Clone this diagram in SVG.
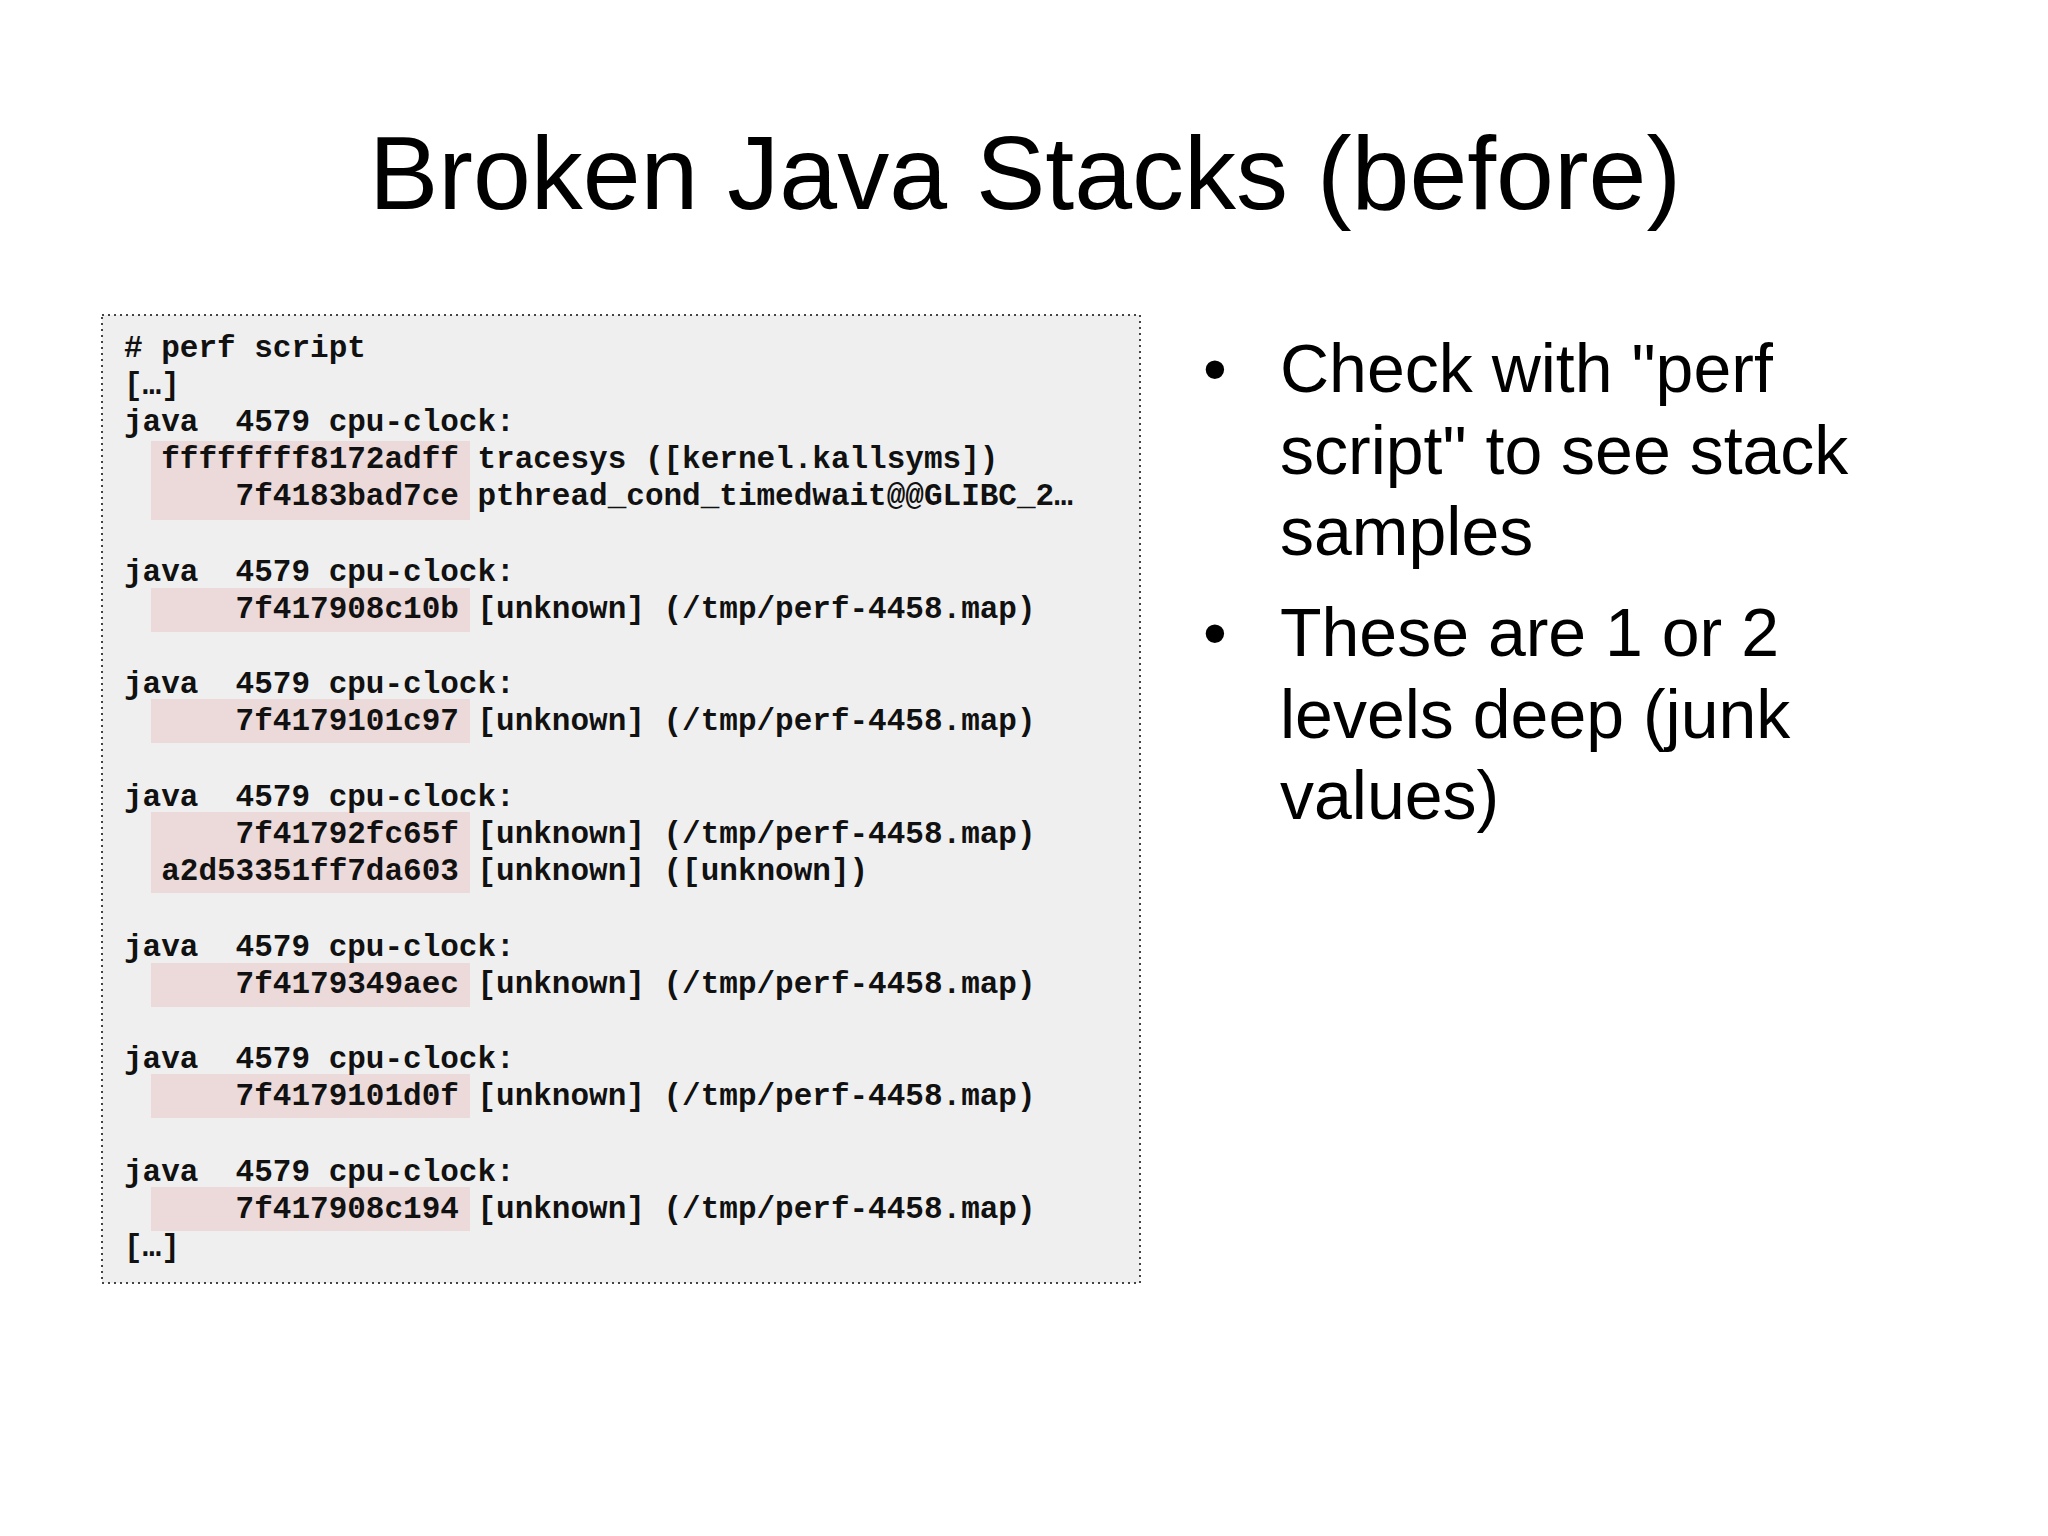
<svg xmlns="http://www.w3.org/2000/svg" width="2048" height="1536" viewBox="0 0 2048 1536">
<style>
.c{font-family:"Liberation Mono",monospace;font-weight:bold;font-size:31px;fill:#111;white-space:pre}
.b{font-family:"Liberation Sans",Arial,sans-serif;font-size:68px;fill:#000}
.h{fill:#ecd9d9}
</style>
<rect width="2048" height="1536" fill="#fff"/>
<text x="1025" y="209" text-anchor="middle" font-family="Liberation Sans,Arial,sans-serif" font-size="104">Broken Java Stacks (before)</text>
<g id="code">
<rect x="102" y="315" width="1038" height="968" fill="#efefef" stroke="#444" stroke-width="2" stroke-dasharray="2 4"/>
<rect class="h" x="151" y="441" width="319" height="79"/>
<rect class="h" x="151" y="588" width="319" height="44"/>
<rect class="h" x="151" y="699" width="319" height="44"/>
<rect class="h" x="151" y="812" width="319" height="81"/>
<rect class="h" x="151" y="963" width="319" height="44"/>
<rect class="h" x="151" y="1074" width="319" height="44"/>
<rect class="h" x="151" y="1187" width="319" height="44"/>
<text class="c" x="124" y="357"># perf script</text>
<text class="c" x="124" y="394">[…]</text>
<text class="c" x="124" y="431">java  4579 cpu-clock:</text>
<text class="c" x="124" y="468">  ffffffff8172adff tracesys ([kernel.kallsyms])</text>
<text class="c" x="124" y="505">      7f4183bad7ce pthread_cond_timedwait@@GLIBC_2…</text>
<text class="c" x="124" y="581">java  4579 cpu-clock:</text>
<text class="c" x="124" y="618">      7f417908c10b [unknown] (/tmp/perf-4458.map)</text>
<text class="c" x="124" y="693">java  4579 cpu-clock:</text>
<text class="c" x="124" y="730">      7f4179101c97 [unknown] (/tmp/perf-4458.map)</text>
<text class="c" x="124" y="806">java  4579 cpu-clock:</text>
<text class="c" x="124" y="843">      7f41792fc65f [unknown] (/tmp/perf-4458.map)</text>
<text class="c" x="124" y="880">  a2d53351ff7da603 [unknown] ([unknown])</text>
<text class="c" x="124" y="956">java  4579 cpu-clock:</text>
<text class="c" x="124" y="993">      7f4179349aec [unknown] (/tmp/perf-4458.map)</text>
<text class="c" x="124" y="1068">java  4579 cpu-clock:</text>
<text class="c" x="124" y="1105">      7f4179101d0f [unknown] (/tmp/perf-4458.map)</text>
<text class="c" x="124" y="1181">java  4579 cpu-clock:</text>
<text class="c" x="124" y="1218">      7f417908c194 [unknown] (/tmp/perf-4458.map)</text>
<text class="c" x="124" y="1256">[…]</text>
</g>
<g id="bullets">
<text class="b" x="1203" y="392">•</text>
<text class="b" x="1280" y="392">Check with "perf</text>
<text class="b" x="1280" y="474">script" to see stack</text>
<text class="b" x="1280" y="555">samples</text>
<text class="b" x="1203" y="656">•</text>
<text class="b" x="1280" y="656">These are 1 or 2</text>
<text class="b" x="1280" y="738">levels deep (junk</text>
<text class="b" x="1280" y="819">values)</text>
</g>
</svg>
